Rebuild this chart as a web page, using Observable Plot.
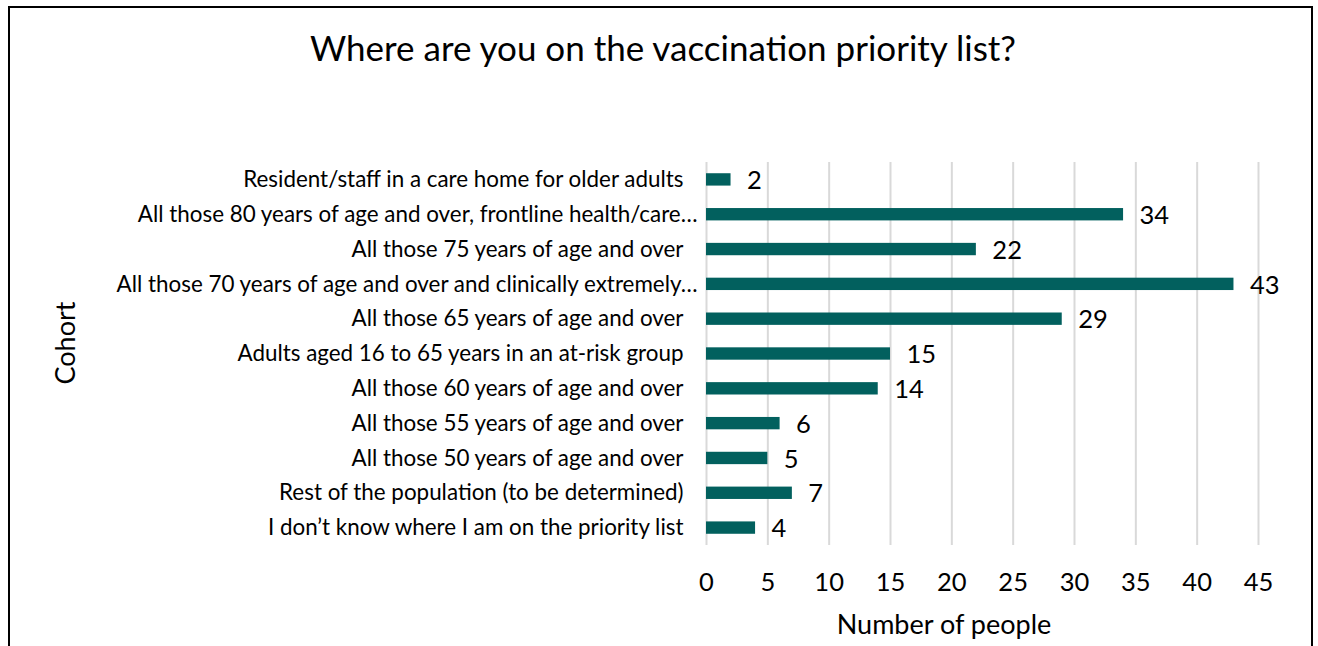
<!DOCTYPE html>
<html>
<head>
<meta charset="utf-8">
<script src="https://cdn.jsdelivr.net/npm/d3@7"></script>
<script src="https://cdn.jsdelivr.net/npm/@observablehq/plot@0.6"></script>
<style>
  html, body { margin: 0; padding: 0; background: #fff; overflow: hidden; }
  #wrap { position: relative; width: 1318px; height: 646px; font-family: Lato, sans-serif; }
  #border { position: absolute; left: 8px; top: 6px; width: 1305px; height: 700px; border: 2px solid #000; box-sizing: border-box; }
  #title { position: absolute; left: 0; width: 1326px; top: 26px; text-align: center; font-size: 35px; color: #000; }
  #xlabel { position: absolute; left: 744px; width: 400px; top: 607px; text-align: center; font-size: 27px; color: #000; }
  #ylabel { position: absolute; left: 64px; top: 343px; transform: translate(-50%, -50%) rotate(-90deg); font-size: 27px; color: #000; white-space: nowrap; }
  #chart { position: absolute; left: 0; top: 0; }
</style>
</head>
<body>
<div id="wrap">
  <div id="border"></div>
  <div id="chart"></div>
  <div id="title">Where are you on the vaccination priority list?</div>
  <div id="xlabel">Number of people</div>
  <div id="ylabel">Cohort</div>
</div>
<script>
const categories = [
  "Resident/staff in a care home for older adults",
  "All those 80 years of age and over, frontline health/care…",
  "All those 75 years of age and over",
  "All those 70 years of age and over and clinically extremely…",
  "All those 65 years of age and over",
  "Adults aged 16 to 65 years in an at-risk group",
  "All those 60 years of age and over",
  "All those 55 years of age and over",
  "All those 50 years of age and over",
  "Rest of the population (to be determined)",
  "I don’t know where I am on the priority list"
];
const values = [2, 34, 22, 43, 29, 15, 14, 6, 5, 7, 4];
const xTicks = [0, 5, 10, 15, 20, 25, 30, 35, 40, 45];

const data = categories.map((c, i) => ({cohort: c, value: values[i]}));
const truncated = categories.filter(c => c.endsWith("…"));
const plain = categories.filter(c => !c.endsWith("…"));

const barColor = "#02605E";

const chart = Plot.plot({
  width: 1318,
  height: 646,
  marginLeft: 706,
  marginRight: 60,
  marginTop: 162,
  marginBottom: 101,
  style: {fontFamily: "Lato, sans-serif", color: "#000", background: "transparent", overflow: "visible"},
  x: {domain: [0, 45], ticks: xTicks},
  y: {domain: categories, paddingInner: 0.645, paddingOuter: 0.3225, round: false, axis: null},
  marks: [
    Plot.ruleX(xTicks, {stroke: "#D9D9D9", strokeWidth: 2}),
    Plot.barX(data, {x: "value", y: "cohort", fill: barColor}),
    Plot.text(data, {x: "value", y: "cohort", text: d => String(d.value), textAnchor: "start", dx: 16, dy: 1, fontSize: 25.5, fill: "#000"}),
    Plot.axisX(xTicks, {tickSize: 0, tickPadding: 27, fontSize: 25.5, label: null, tickFormat: d => String(d)}),
    Plot.axisY(plain, {tickSize: 0, tickPadding: 23, fontSize: 22.4, label: null}),
    Plot.axisY(truncated, {tickSize: 0, tickPadding: 9, fontSize: 22.4, label: null})
  ]
});
document.getElementById("chart").appendChild(chart);
</script>
</body>
</html>
